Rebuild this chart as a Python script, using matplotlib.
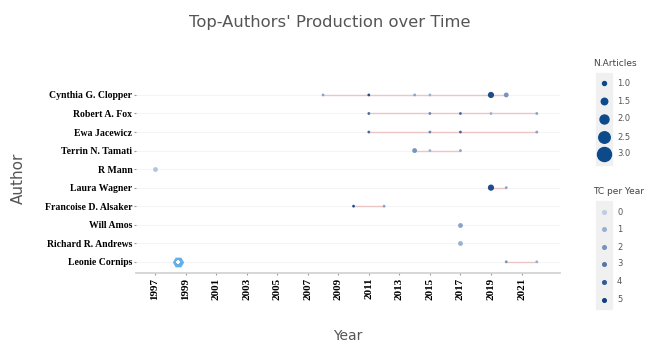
import matplotlib.pyplot as plt
import matplotlib.colors as mcolors
from matplotlib.patches import Rectangle

# authors from top to bottom
authors = ['Cynthia G. Clopper', 'Robert A. Fox', 'Ewa Jacewicz', 'Terrin N. Tamati',
           'R Mann', 'Laura Wagner', 'Francoise D. Alsaker', 'Will Amos',
           'Richard R. Andrews', 'Leonie Cornips']

# production per author: years, number of articles, TC per year
years = [[2008, 2011, 2014, 2015, 2019, 2020],
         [2011, 2015, 2017, 2019, 2022],
         [2011, 2015, 2017, 2022],
         [2014, 2015, 2017],
         [1997],
         [2019, 2020],
         [2010, 2012],
         [2017],
         [2017],
         [2020, 2022]]
n_articles = [[1, 1, 1, 1, 3, 2],
              [1, 1, 1, 1, 1],
              [1, 1, 1, 1],
              [2, 1, 1],
              [2],
              [3, 1],
              [1, 1],
              [2],
              [2],
              [1, 1]]
tc_year = [[1.5, 4.5, 1.5, 1.0, 4.5, 2.0],
           [3.5, 2.5, 3.5, 1.0, 1.5],
           [3.5, 2.5, 3.5, 1.5],
           [2.0, 1.0, 1.5],
           [0.3],
           [4.5, 1.5],
           [4.5, 1.5],
           [1.5],
           [1.0],
           [2.0, 1.0]]

# stray icon seen in the picture
icon_year = 1998.5
icon_author = 'Leonie Cornips'

xtick_years = list(range(1997, 2022, 2))
legend_sizes = [1.0, 1.5, 2.0, 2.5, 3.0]
legend_tc = [0, 1, 2, 3, 4, 5]

cmap = mcolors.LinearSegmentedColormap.from_list('tc', ['#bccde4', '#0e3f80'])
norm = mcolors.Normalize(vmin=0, vmax=5)

def plot_size(n):
    return 4 + (n - 1) * 8

fig = plt.figure(figsize=(6.6, 3.45), dpi=100)
ax = fig.add_axes([0.206, 0.209, 0.642, 0.548])

ypos = {a: len(authors) - i for i, a in enumerate(authors)}

for y in ypos.values():
    ax.axhline(y, color='#f3f3f3', lw=0.6, zorder=0)

for a, yrs, ns, tcs in zip(authors, years, n_articles, tc_year):
    y = ypos[a]
    if len(yrs) > 1:
        ax.plot([min(yrs), max(yrs)], [y, y], color='#ecc5c5', lw=1, zorder=1)
    ax.scatter(yrs, [y] * len(yrs), s=[plot_size(n) for n in ns],
               c=[cmap(norm(t)) for t in tcs], zorder=2, linewidths=0)

ax.scatter([icon_year], [ypos[icon_author]], marker='H', s=65, color='#62b0ea',
           zorder=3, linewidths=0)
ax.scatter([icon_year], [ypos[icon_author]], marker='P', s=9, color='white',
           zorder=4, linewidths=0)

ax.set_xlim(1995.75, 2023.5)
ax.set_ylim(0.4, len(authors) + 0.6)
ax.set_yticks(list(ypos.values()))
ax.set_yticklabels(list(ypos.keys()), family='Liberation Serif', fontweight='bold',
                   fontsize=7)
ax.set_xticks(xtick_years)
ax.set_xticklabels([str(x) for x in xtick_years], rotation=90, family='Liberation Serif',
                   fontweight='bold', fontsize=8)
ax.tick_params(axis='y', length=1.5, color='#999999', pad=1)
ax.tick_params(axis='x', length=1.5, color='#999999', pad=2)
for side in ['top', 'right', 'left']:
    ax.spines[side].set_visible(False)
ax.spines['bottom'].set_color('#cfcfcf')
ax.spines['bottom'].set_linewidth(1.2)

ax.set_xlabel('Year', fontsize=10, color='#555555', labelpad=21)
ax.set_ylabel('Author', fontsize=11, color='#555555', labelpad=14)
fig.text(0.5, 0.935, "Top-Authors' Production over Time", ha='center', va='center',
         fontsize=11.8, color='#555555')

# legends drawn in figure pixel coordinates
W, H = 660, 345
def px(x, y):
    return x / W, 1 - y / H

fig.text(*px(593, 63), 'N.Articles', fontsize=6.5, color='#444444', va='center')
fig.patches.append(Rectangle(px(596, 165), 16 / W, 92 / H, transform=fig.transFigure,
                             color='#f0f0f0', zorder=0))
leg_y = [83, 101, 119, 137, 154]
for v, yy in zip(legend_sizes, leg_y):
    d = 4 + (v - 1) * 5
    fig.add_artist(plt.Line2D([px(604, yy)[0]], [px(604, yy)[1]], marker='o',
                              markersize=d * 0.72, color='#0d4a8a', lw=0,
                              transform=fig.transFigure))
    fig.text(*px(617, yy), f'{v:.1f}', fontsize=6, color='#555555', va='center')

fig.text(*px(593, 192), 'TC per Year', fontsize=6.5, color='#444444', va='center')
fig.patches.append(Rectangle(px(596, 309), 16 / W, 108 / H, transform=fig.transFigure,
                             color='#f0f0f0', zorder=0))
tc_y = [212, 229, 247, 264, 282, 300]
for v, yy in zip(legend_tc, tc_y):
    fig.add_artist(plt.Line2D([px(604, yy)[0]], [px(604, yy)[1]], marker='o',
                              markersize=2.6, color=cmap(norm(v)), lw=0,
                              transform=fig.transFigure))
    fig.text(*px(617, yy), str(v), fontsize=6, color='#555555', va='center')

fig.savefig('out.png', dpi=100)
